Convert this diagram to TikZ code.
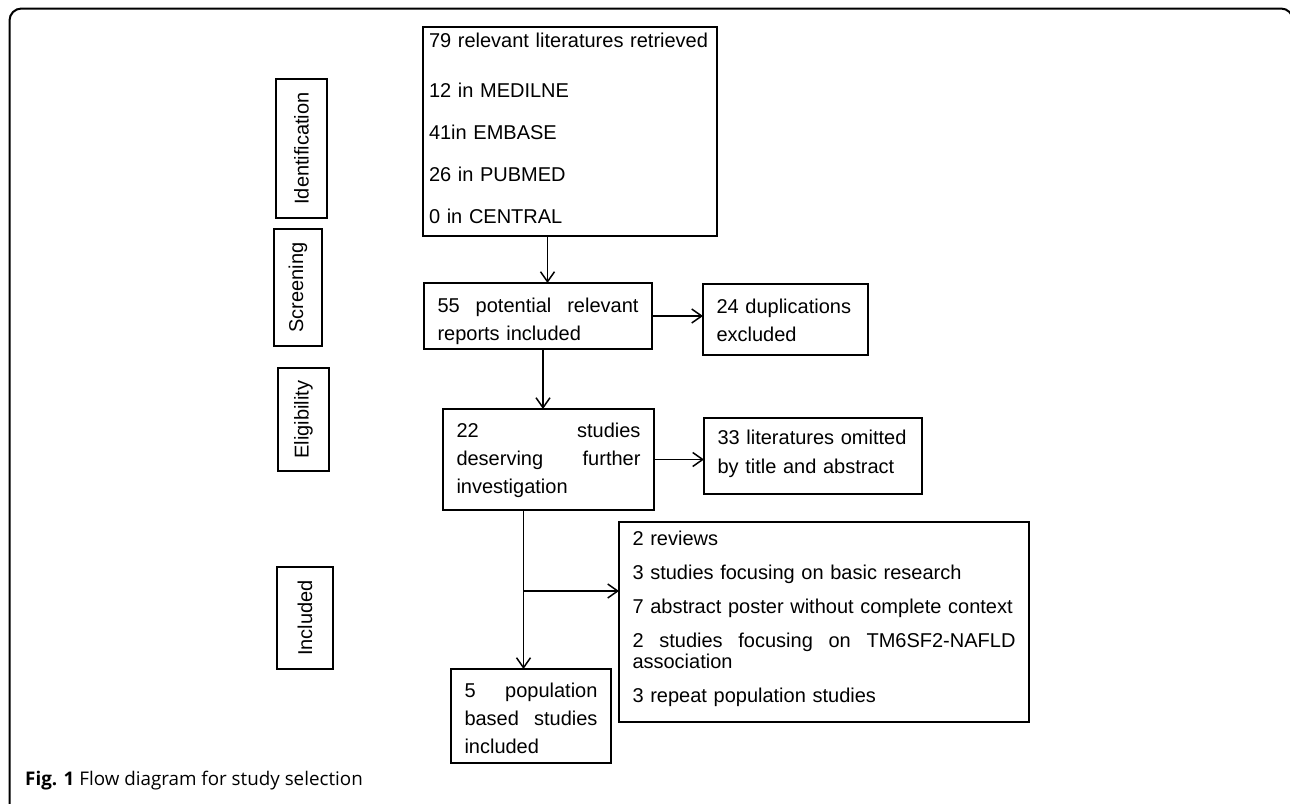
\documentclass[tikz,border=0pt]{standalone}
\usepackage{fontspec}
\setmainfont{Liberation Sans}
\newfontfamily\capfont{Open Sans}
\usetikzlibrary{positioning, calc, arrows.meta}

\begin{document}
\begin{tikzpicture}[x=1pt, y=-1pt,
  stage/.style={draw, line width=1.7pt, rotate=90, inner sep=0pt, font=\fontsize{20}{24}\selectfont},
  box/.style={draw, line width=2pt, anchor=base west, inner xsep=13.5pt, inner ysep=0pt, outer sep=0pt, align=left, font=\fontsize{20}{28}\selectfont},
  flow/.style={-{Straight Barb[length=10pt,width=14pt]}, line width=1.5pt}]
\useasboundingbox (0,0) rectangle (1290,803);
\draw[line width=2pt, rounded corners=12pt] (9.5,810) -- (9.5,8.5) -- (1293,8.5) -- (1293,40);

\node[stage, minimum width=139pt, minimum height=51pt](ident) at (301.5,148.5) {Identification};
\node[stage, minimum width=117pt, minimum height=48pt](screen) at (298,287.5) {Screening};
\node[stage, minimum width=103pt, minimum height=51pt](elig) at (303.5,419.5) {Eligibility};
\node[stage, minimum width=102pt, minimum height=56pt](incl) at (305,618) {Included};

\node[box, inner xsep=6pt, text width=282pt, text height=20pt, text depth=189pt, font=\fontsize{20}{42}\selectfont](ret) at (423,47) {\mbox{79 relevant literatures retrieved}\\[8pt] 12 in MEDILNE\\ 41in EMBASE\\ 26 in PUBMED\\ 0 in CENTRAL};
\node[box, text width=201pt, text height=29pt, text depth=37pt](pot) at (424,312) {55\hfill potential\hfill relevant\\ reports included};
\node[box, text width=138pt, text height=29pt, text depth=42pt](dup) at (703,313) {24 duplications\\ excluded};
\node[box, text width=184pt, text height=28pt, text depth=73pt](deserv) at (443,437) {22\hfill studies\\ deserving\hfill further\\ investigation};
\node[box, text width=191pt, text height=26pt, text depth=50pt, font=\fontsize{20}{29}\selectfont](omit) at (704,444) {33 literatures omitted\\ by title and abstract};
\node[box, text width=383pt, text height=23pt, text depth=177pt, font=\fontsize{20}{34}\selectfont](excl) at (619,545) {2 reviews\\ 3 studies focusing on basic research\\ 7 abstract poster without complete context\\ 2\hfill studies\hfill focusing\hfill on\hfill TM6SF2-NAFLD\\[-13pt] association\\ 3 repeat population studies};
\node[box, text width=133pt, text height=28pt, text depth=66pt](popn) at (451,697) {5\hfill population\\ based\hfill studies\\ included};

\coordinate (c1) at (547.5,0);
\coordinate (c2) at (543,0);
\coordinate (c3) at (523.5,0);
\coordinate (fork) at (523.5,591);

\draw[flow] (ret.south -| c1) -- (pot.north -| c1);
\draw[flow] (pot.east) -- (dup.west |- pot.east);
\draw[flow] (pot.south -| c2) -- (deserv.north -| c2);
\draw[flow] (deserv.east) -- (omit.west |- deserv.east);
\draw[flow] (deserv.south -| c3) -- (popn.north -| c3);
\draw[flow] (fork) -- (fork -| excl.west);

\node[anchor=base west, inner sep=0pt, font=\capfont\fontsize{18.8}{19}\selectfont](cap) at (25,785) {\textbf{Fig. 1} Flow diagram for study selection};
\end{tikzpicture}
\end{document}
